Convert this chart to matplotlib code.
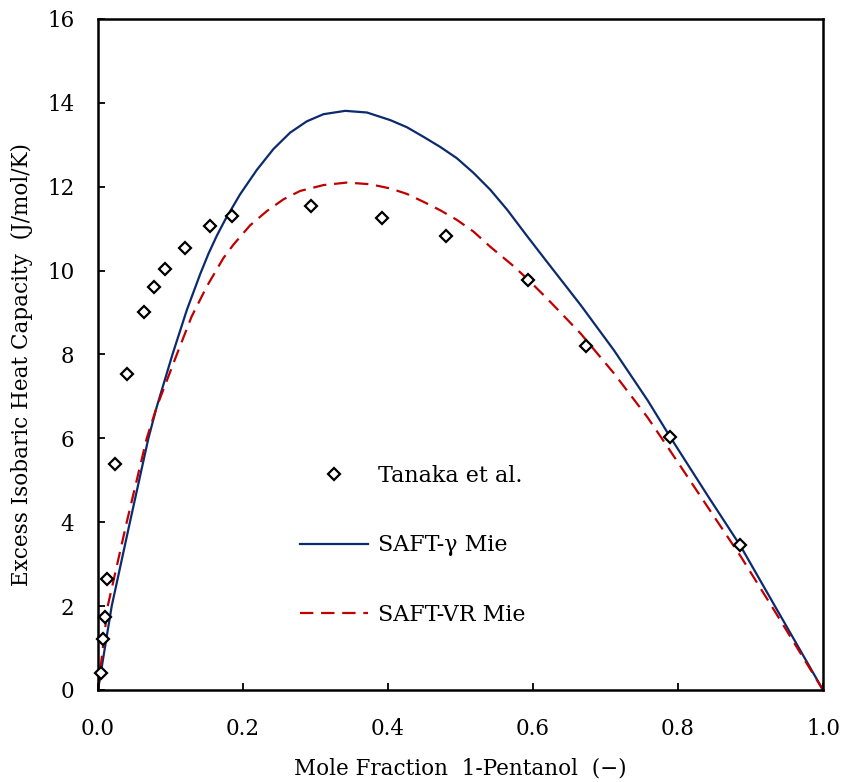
import numpy as np
import matplotlib
matplotlib.use("Agg")
import matplotlib.pyplot as plt

plt.rcParams['font.family'] = ['DejaVu Serif']

# Tanaka et al. experimental points
x_exp = [0.0037, 0.0065, 0.0097, 0.0129, 0.0235, 0.0396, 0.0635, 0.0778, 0.092,
         0.1197, 0.1547, 0.1855, 0.2933, 0.392, 0.480, 0.5935, 0.6736, 0.7887, 0.886]
y_exp = [0.41, 1.21, 1.75, 2.65, 5.40, 7.54, 9.02, 9.60, 10.03,
         10.54, 11.06, 11.30, 11.54, 11.26, 10.82, 9.78, 8.21, 6.04, 3.46]

# SAFT-gamma Mie (solid blue)
x_gm = [0.0, 0.0189, 0.044, 0.0695, 0.081, 0.1027, 0.1225, 0.141, 0.1523, 0.1638,
        0.1753, 0.196, 0.219, 0.242, 0.265, 0.288, 0.311, 0.341, 0.371, 0.403,
        0.426, 0.449, 0.472, 0.495, 0.518, 0.541, 0.564, 0.592, 0.6197, 0.6657,
        0.7117, 0.758, 0.789, 0.8407, 0.8867, 0.9327, 1.0]
y_gm = [0.0, 2.0, 4.0, 6.0, 6.75, 8.0, 9.06, 9.92, 10.40, 10.83,
        11.21, 11.82, 12.40, 12.90, 13.29, 13.56, 13.73, 13.81, 13.77, 13.59,
        13.42, 13.19, 12.95, 12.68, 12.33, 11.93, 11.46, 10.82, 10.20, 9.18,
        8.10, 6.91, 6.04, 4.64, 3.42, 2.03, 0.0]

# SAFT-VR Mie (dashed red)
x_vr = [0.0, 0.0134, 0.0396, 0.0672, 0.081, 0.1087, 0.129, 0.150, 0.173, 0.1868,
        0.2098, 0.2329, 0.2558, 0.2788, 0.311, 0.3433, 0.3754, 0.403, 0.426, 0.449,
        0.472, 0.495, 0.518, 0.541, 0.5737, 0.5935, 0.6197, 0.6657, 0.7117, 0.758,
        0.7855, 0.8407, 0.8867, 0.9327, 1.0]
y_vr = [0.0, 2.0, 4.0, 6.0, 6.75, 8.0, 8.90, 9.62, 10.30, 10.62,
        11.08, 11.42, 11.70, 11.90, 12.04, 12.10, 12.06, 11.96, 11.83, 11.64,
        11.44, 11.21, 10.93, 10.57, 10.10, 9.78, 9.33, 8.50, 7.55, 6.50,
        5.80, 4.37, 3.18, 1.90, 0.0]

fig = plt.figure(figsize=(8.45, 7.82), dpi=100)
ax = fig.add_axes([98/845, 92/782, 725/845, 671/782])

ax.plot(x_exp, y_exp, linestyle='none', marker='D', ms=6, mew=1.6, mec='black',
        mfc='white', zorder=5, clip_on=False, label='Tanaka et al.')
ax.plot(x_gm, y_gm, color='#0B2A6F', lw=1.6, label='SAFT-\u03b3 Mie')
ax.plot(x_vr, y_vr, color='#C00000', lw=1.6, dashes=(6, 3.5), label='SAFT-VR Mie')

ax.set_xlim(0, 1)
ax.set_ylim(0, 16)
ax.set_xticks(np.arange(0, 1.01, 0.2))
ax.set_xticklabels(['0.0', '0.2', '0.4', '0.6', '0.8', '1.0'])
ax.set_yticks(range(0, 17, 2))

for s in ax.spines.values():
    s.set_linewidth(1.8)
ax.tick_params(direction='in', length=5, width=1.3, labelsize=15.5)
ax.tick_params(axis='y', pad=17)
ax.tick_params(axis='x', pad=20)

ax.set_xlabel('Mole Fraction  1-Pentanol  (\u2212)', fontsize=15.5)
ax.set_ylabel('Excess Isobaric Heat Capacity  (J/mol/K)', fontsize=15.5)
ax.xaxis.set_label_coords(0.5, -0.10)
ax.yaxis.set_label_coords(-0.09, 0.485)

ax.legend(loc='upper left', bbox_to_anchor=(0.279, 0.336), frameon=False,
          fontsize=16, handlelength=3.05, handletextpad=0.45, labelspacing=2.15,
          borderpad=0, borderaxespad=0, numpoints=1)

fig.savefig('out.png', dpi=100)
